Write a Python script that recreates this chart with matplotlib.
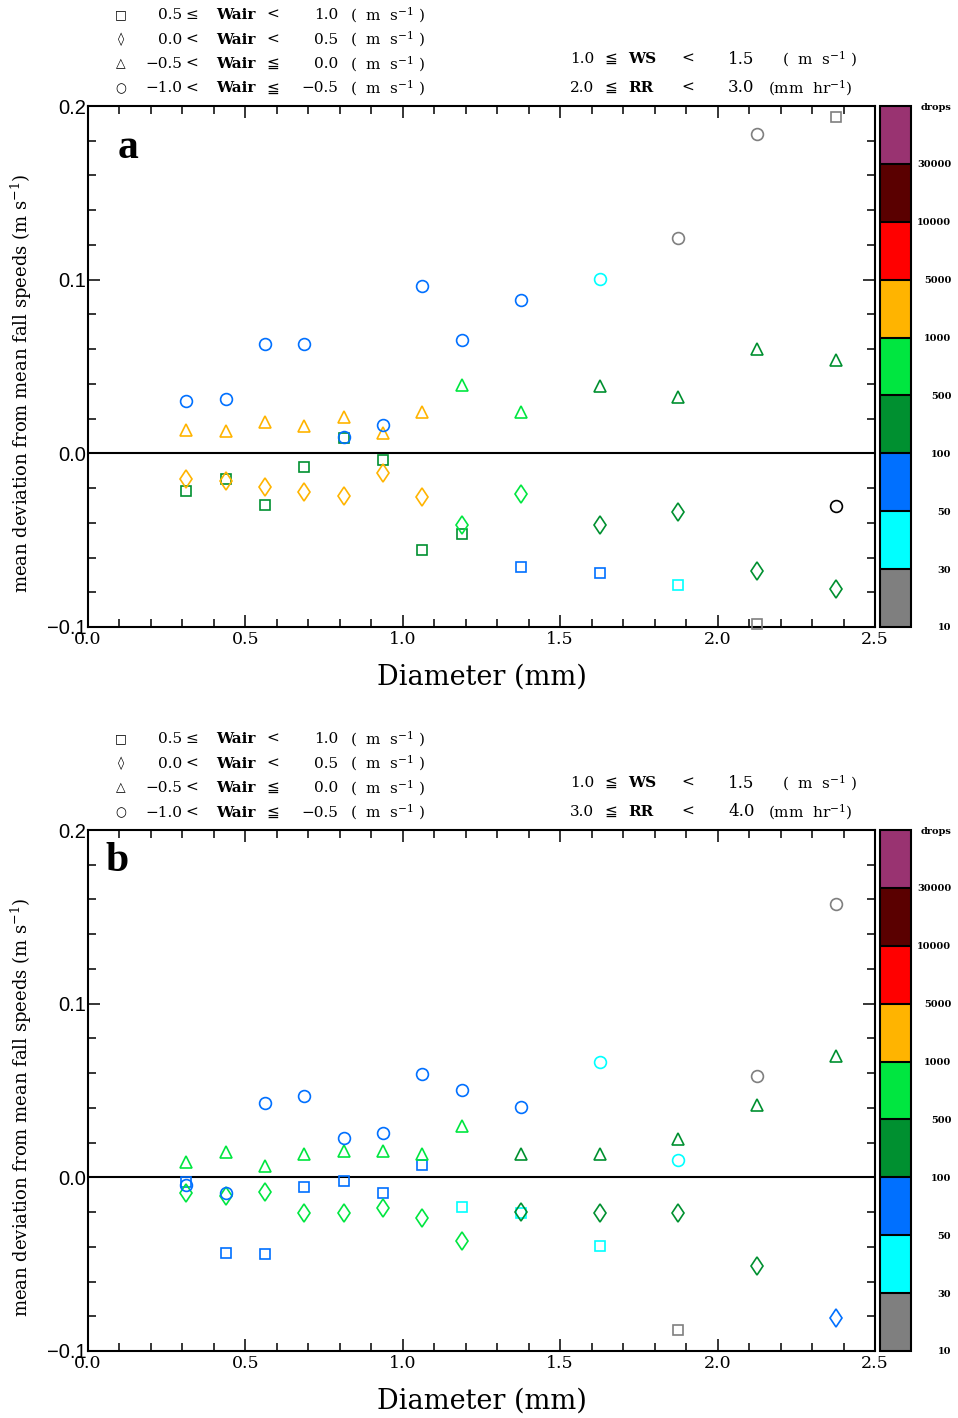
import numpy as np
import matplotlib
matplotlib.use("Agg")
import matplotlib.pyplot as plt
from matplotlib.colors import ListedColormap, BoundaryNorm
from matplotlib.cm import ScalarMappable
from matplotlib.ticker import MultipleLocator

plt.rcParams["mathtext.fontset"] = "dejavuserif"

# drop diameter classes (mm)
diam = [0.312, 0.437, 0.562, 0.687, 0.812, 0.937, 1.062, 1.187, 1.375, 1.625, 1.875, 2.125, 2.375]

# drop count classes: 0 gray(10-30) 1 cyan(30-50) 2 blue(50-100) 3 dkgreen(100-500)
# 4 ltgreen(500-1000) 5 orange(1000-5000) 6 red 7 dkred 8 purple, 9 = black point
count_labels = ["10", "30", "50", "100", "500", "1000", "5000", "10000", "30000", "drops"]
bin_colors = ["#7f7f7f", "#00ffff", "#0070ff", "#009030", "#00e640",
              "#ffb400", "#ff0000", "#5a0000", "#993371"]
point_colors = bin_colors + ["#000000"]

# panel a : 1.0 <= WS < 1.5, 2.0 <= RR < 3.0
a_sq = [-0.0215, -0.0148, -0.0298, -0.0078, 0.0087, -0.0037, -0.0556, -0.0465, -0.0657, -0.0688, -0.0758, -0.098, 0.1936]
a_sq_c = [3, 3, 3, 3, 3, 3, 3, 3, 2, 2, 1, 0, 0]
a_di = [-0.0148, -0.0158, -0.0196, -0.0225, -0.0248, -0.0116, -0.0253, -0.041, -0.0237, -0.0415, -0.0336, -0.0676, -0.078]
a_di_c = [5, 5, 5, 5, 5, 5, 5, 4, 4, 3, 3, 3, 3]
a_tr = [0.0136, 0.0126, 0.018, 0.0157, 0.0209, 0.0117, 0.0236, 0.0396, 0.0236, 0.039, 0.0327, 0.060, 0.0539]
a_tr_c = [5, 5, 5, 5, 5, 5, 5, 4, 4, 3, 3, 3, 3]
a_ci = [0.0301, 0.031, 0.063, 0.063, 0.0094, 0.0161, 0.0963, 0.065, 0.0881, 0.1002, 0.124, 0.1837, -0.0306]
a_ci_c = [2, 2, 2, 2, 2, 2, 2, 2, 2, 1, 0, 0, 9]

# panel b : 1.0 <= WS < 1.5, 3.0 <= RR < 4.0
b_sq = [-0.0029, -0.0434, -0.0444, -0.0057, -0.0019, -0.0091, 0.0072, -0.0171, -0.0204, -0.0395, -0.0878, np.nan, np.nan]
b_sq_c = [2, 2, 2, 2, 2, 2, 2, 1, 1, 1, 0, 0, 0]
b_di = [-0.0091, -0.0105, -0.0086, -0.0206, -0.0206, -0.0175, -0.0236, -0.0366, -0.0201, -0.0204, -0.0204, -0.0508, -0.081]
b_di_c = [4, 4, 4, 4, 4, 4, 4, 4, 3, 3, 3, 3, 2]
b_tr = [0.0086, 0.0147, 0.0067, 0.0133, 0.0152, 0.0152, 0.0136, 0.0296, 0.0136, 0.0136, 0.0218, 0.0419, 0.0699]
b_tr_c = [4, 4, 4, 4, 4, 4, 4, 4, 3, 3, 3, 3, 3]
b_ci = [-0.0047, -0.0091, 0.0429, 0.0467, 0.0229, 0.0257, 0.0594, 0.0504, 0.0403, 0.0664, 0.0101, 0.0582, 0.1574]
b_ci_c = [2, 2, 2, 2, 2, 2, 2, 2, 2, 1, 1, 0, 0]

# legend rows: symbol, lower, op1, op2, upper
wair_rows = [("□", "0.5", "≤", "<", "1.0"),
             ("◊", "0.0", "<", "<", "0.5"),
             ("△", "−0.5", "<", "≦", "0.0"),
             ("○", "−1.0", "<", "≦", "−0.5")]

W, H = 958, 1418
def fx(x): return x / W
def fy(y): return 1 - y / H

SERIF = ["DejaVu Serif", "DejaVu Sans"]
SANS = ["Liberation Sans", "DejaVu Sans"]

fig = plt.figure(figsize=(W / 100, H / 100), dpi=100)

cmap = ListedColormap(bin_colors)
norm = BoundaryNorm(np.arange(10), 9)

panels = [
    dict(top=106, letter="a", lpos=(128, 148), rr=("2.0", "3.0"),
         series=[(a_sq, a_sq_c, "s", 7.2), (a_di, a_di_c, "d", 9.5),
                 (a_tr, a_tr_c, "^", 9.0), (a_ci, a_ci_c, "o", 8.5)]),
    dict(top=830, letter="b", lpos=(117, 861), rr=("3.0", "4.0"),
         series=[(b_sq, b_sq_c, "s", 7.2), (b_di, b_di_c, "d", 9.5),
                 (b_tr, b_tr_c, "^", 9.0), (b_ci, b_ci_c, "o", 8.5)]),
]

for p in panels:
    top = p["top"]
    bot = top + 521
    ax = fig.add_axes([fx(88), fy(bot), 787 / W, 521 / H])
    ax.axhline(0, color="black", lw=1.5, zorder=1)
    for vals, cls, mk, ms in p["series"]:
        for d, v, c in zip(diam, vals, cls):
            if np.isnan(v):
                continue
            ax.plot(d, v, marker=mk, ms=ms, mfc="none", mec=point_colors[c],
                    mew=1.2, ls="none", zorder=3, clip_on=False)
    ax.set_xlim(0, 2.5)
    ax.set_ylim(-0.1, 0.2)
    ax.xaxis.set_major_locator(MultipleLocator(0.5))
    ax.xaxis.set_minor_locator(MultipleLocator(0.1))
    ax.yaxis.set_major_locator(MultipleLocator(0.1))
    ax.yaxis.set_minor_locator(MultipleLocator(0.02))
    ax.tick_params(which="both", direction="in", top=True, right=True, width=1.1)
    ax.tick_params(which="major", length=8.5)
    ax.tick_params(which="minor", length=6)
    ax.tick_params(axis="x", pad=3)
    ax.tick_params(axis="y", pad=1)
    ax.set_xticklabels([f"{t:.1f}" for t in ax.get_xticks()], family=SERIF, fontsize=12.5)
    ax.set_yticklabels([f"{t:.1f}".replace("-", "−") for t in ax.get_yticks()],
                       family=SANS, fontsize=14.5)
    for s in ax.spines.values():
        s.set_linewidth(1.5)
    ax.set_xlabel("Diameter (mm)", family=SERIF, fontsize=19.5, labelpad=11)
    fig.text(fx(21), fy(top + 277), r"mean deviation from mean fall speeds (m s$^{-1}$)",
             rotation=90, ha="center", va="center", family=SERIF, fontsize=13)
    fig.text(fx(p["lpos"][0]), fy(p["lpos"][1]), p["letter"], ha="center", va="center",
             family=["Liberation Serif"], weight="bold", fontsize=30)

    # Wair legend block
    kw = dict(va="center", family=SERIF, fontsize=11)
    for i, (sym, lo, op1, op2, hi) in enumerate(wair_rows):
        y = fy(top - 91 + i * 24.5)
        fig.text(fx(121), y, sym, ha="center", **dict(kw, fontsize=9))
        fig.text(fx(182), y, lo, ha="right", **kw)
        fig.text(fx(192), y, op1, ha="center", **kw)
        fig.text(fx(216), y, "Wair", ha="left", weight="bold", **kw)
        fig.text(fx(273), y, op2, ha="center", **kw)
        fig.text(fx(338), y, hi, ha="right", **kw)
        fig.text(fx(350), y, r"(  m  s$^{-1}$ )", ha="left", **kw)

    # WS / RR block
    for j, (lo, name, hi, unit, ux) in enumerate(
            [("1.0", "WS", "1.5", r"(  m  s$^{-1}$ )", 782),
             (p["rr"][0], "RR", p["rr"][1], r"(mm  hr$^{-1}$)", 768)]):
        y = fy(top - 47 + j * 29)
        fig.text(fx(570), y, lo, ha="left", **kw)
        fig.text(fx(611), y, "≦", ha="center", **kw)
        fig.text(fx(628), y, name, ha="left", weight="bold", **kw)
        fig.text(fx(688), y, "<", ha="center", **kw)
        fig.text(fx(728), y, hi, ha="left", **dict(kw, fontsize=12))
        fig.text(fx(ux), y, unit, ha="left", **kw)

    # drop-count colour bar
    cax = fig.add_axes([fx(880), fy(bot), 31 / W, 521 / H])
    cb = fig.colorbar(ScalarMappable(norm=norm, cmap=cmap), cax=cax, drawedges=True)
    cb.outline.set_linewidth(1.5)
    cb.dividers.set_linewidth(1.5)
    cb.set_ticks(np.arange(10))
    cb.set_ticklabels(count_labels)
    cax.tick_params(length=0, pad=29)
    for tick in cax.yaxis.get_major_ticks():
        lab = tick.label2
        lab.set_ha("right")
        lab.set_family(SERIF)
        lab.set_weight("bold")
        lab.set_fontsize(7)

fig.savefig("out.png", dpi=100)
